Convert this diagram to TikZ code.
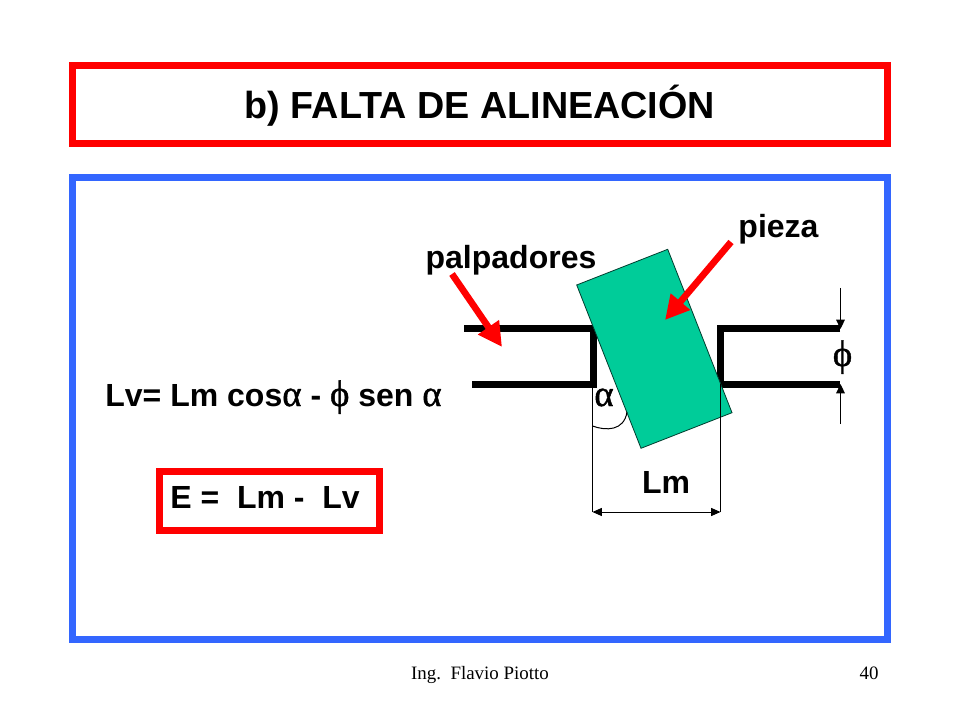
\documentclass[tikz,border=0pt]{standalone}
\usepackage{fontspec}
\setmainfont{Liberation Sans}
\newfontfamily\symfont[FakeBold=1.2,Scale=1.15]{Liberation Serif}
\newfontfamily\footfont{Liberation Serif}
\usetikzlibrary{arrows.meta}
\newcommand{\ga}{{\normalfont\symfont α}}
\newcommand{\gf}{{\normalfont\symfont ϕ}}
\colorlet{framered}{red}
\definecolor{frameblue}{RGB}{51,102,255}
\definecolor{piececolor}{RGB}{0,204,153}

\begin{document}
\begin{tikzpicture}[
x=0.75pt,y=-0.75pt,
RedFrame/.style={draw=framered,line width=5.25pt,fill=white},
BlueFrame/.style={draw=frameblue,line width=5.25pt,fill=white},
Feeler/.style={line width=5.25pt,line cap=butt,line join=miter},
Pointer/.style={draw=red,line width=5pt,-{Triangle[length=18pt,width=18pt]}},
Thin/.style={line width=0.75pt},
Dim/.style={line width=0.75pt,{Triangle[length=7pt,width=6pt]}-{Triangle[length=7pt,width=6pt]}},
DimEnd/.style={line width=0.75pt,-{Triangle[length=7pt,width=6.5pt]}},
Label/.style={font=\bfseries\fontsize{24}{28}\selectfont,inner sep=0pt,anchor=base}
]
\useasboundingbox (0,0) rectangle (960,720);

% frames
\draw[RedFrame] (72.5,65.5) rectangle (887.5,143.5);
\draw[BlueFrame] (72.5,177.5) rectangle (887.5,639.5);
\draw[RedFrame] (159.5,471.5) rectangle (379.5,530.5);

% corners of the piece
\coordinate (P1) at (576.7,285);
\coordinate (P2) at (667.7,249.3);
\coordinate (P3) at (732,412.7);
\coordinate (P4) at (641,448.3);

\coordinate (LT) at (464,328);
\coordinate (LC) at (593,328);
\coordinate (LD) at (593,384);
\coordinate (LB) at (472,384);
\coordinate (RT) at (840,328);
\coordinate (RC) at (720,328);
\coordinate (RD) at (720,384);
\coordinate (RB) at (840,384);

% feelers
\draw[Feeler] (LT)--(LC)--(LD)--(LB);
\draw[Feeler] (RT)--(RC)--(RD)--(RB);

% piece
\draw[fill=piececolor,draw=black!70!piececolor,line width=0.6pt] (P1)--(P2)--(P3)--(P4)--cycle;

% dimensions
\coordinate (A1) at (592.5,384);
\coordinate (A2) at (592.5,512);
\coordinate (B1) at (720.5,384);
\coordinate (B2) at (720.5,512);
\draw[Thin] (A1)--(A2);
\draw[Thin] (B1)--(B2);
\draw[Dim] (A2)--(B2);

\coordinate (C1) at (840.5,288);
\coordinate (C2) at (840.5,329);
\coordinate (D1) at (840.5,424);
\coordinate (D2) at (840.5,384);
\draw[DimEnd] (C1)--(C2);
\draw[DimEnd] (D1)--(D2);

% angle
\draw[Thin] (592.5,426) .. controls (606,431) and (624,431) .. (627,412);

% pointers
\coordinate (Q1) at (452,274);
\coordinate (Q2) at (502,347);
\coordinate (S1) at (731,242);
\coordinate (S2) at (665,320);
\draw[Pointer] (Q1)--(Q2);
\draw[Pointer] (S1)--(S2);

% texts
\node[Label] (title) at (480,119) {\fontsize{28.3}{32}\selectfont b) FALTA DE ALINEACIÓN};
\node[Label] (pieza) at (778.5,238) {pieza};
\node[Label] (palp) at (511,269) {palpadores};
\node[Label] (lm) at (666,493) {Lm};
\node[Label] (form) at (273.5,406) {Lv= Lm cos\ga{} - \gf{} sen \ga};
\node[Label] (err) at (265,508) {E =\ \ Lm -\ \ Lv};
\node[Label] (alpha) at (604,406) {\ga};
\node[Label] (phi) at (842.5,366) {\gf};

\node[font=\footfont\fontsize{14.2}{16}\selectfont,inner sep=0pt,anchor=base] (foot) at (480,679) {Ing.\ \ Flavio Piotto};
\node[font=\footfont\fontsize{14.2}{16}\selectfont,inner sep=0pt,anchor=base] (num) at (869,679) {40};
\end{tikzpicture}
\end{document}
